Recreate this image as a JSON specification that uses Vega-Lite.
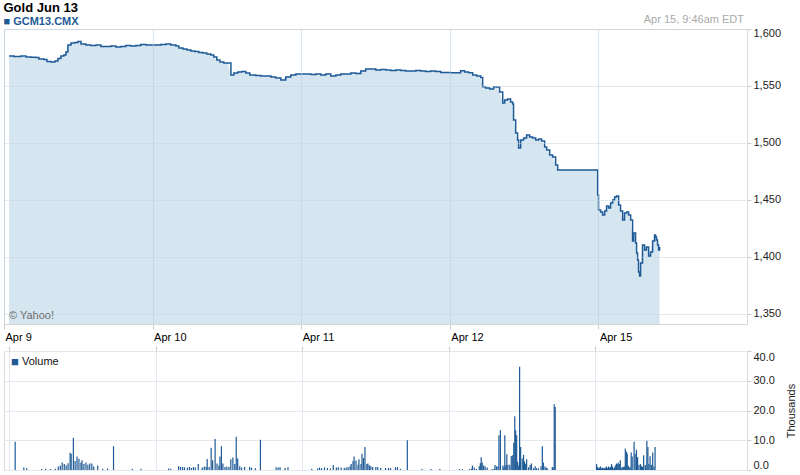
{
  "$schema": "https://vega.github.io/schema/vega-lite/v6.json",
  "padding": {"left": 3, "top": 1, "right": 0, "bottom": 0},
  "background": "white",
  "bounds": "flush",
  "spacing": 27,
  "config": {
    "font": "Liberation Sans",
    "view": {"stroke": "#d9d9d9"},
    "axis": {"labelFont": "Liberation Sans", "labelFontSize": 11, "labelColor": "#222", "tickColor": "#cccccc", "domainColor": "#d9d9d9", "gridColor": "#dfe5ec", "title": null}
  },
  "datasets": {
    "price": [
      {"t": 0.034, "p": 1576.3}, {"t": 0.067, "p": 1575.9}, {"t": 0.114, "p": 1576.3}, {"t": 0.148, "p": 1575.4},
      {"t": 0.182, "p": 1575.2}, {"t": 0.215, "p": 1575.0}, {"t": 0.235, "p": 1573.7}, {"t": 0.269, "p": 1573.2},
      {"t": 0.289, "p": 1571.5}, {"t": 0.316, "p": 1571.0}, {"t": 0.343, "p": 1571.9}, {"t": 0.363, "p": 1574.1},
      {"t": 0.383, "p": 1576.3}, {"t": 0.403, "p": 1577.2}, {"t": 0.417, "p": 1579.8}, {"t": 0.430, "p": 1586.0},
      {"t": 0.451, "p": 1587.7}, {"t": 0.477, "p": 1588.2}, {"t": 0.498, "p": 1589.0}, {"t": 0.518, "p": 1586.8},
      {"t": 0.551, "p": 1586.0}, {"t": 0.585, "p": 1585.5}, {"t": 0.619, "p": 1586.0}, {"t": 0.652, "p": 1584.6},
      {"t": 0.686, "p": 1584.6}, {"t": 0.720, "p": 1585.1}, {"t": 0.753, "p": 1584.2}, {"t": 0.787, "p": 1584.6},
      {"t": 0.820, "p": 1585.5}, {"t": 0.854, "p": 1585.1}, {"t": 0.888, "p": 1585.5}, {"t": 0.921, "p": 1586.4},
      {"t": 0.955, "p": 1586.0}, {"t": 0.989, "p": 1586.0}, {"t": 1.022, "p": 1586.0}, {"t": 1.056, "p": 1586.4},
      {"t": 1.089, "p": 1586.8}, {"t": 1.123, "p": 1586.0}, {"t": 1.157, "p": 1585.1}, {"t": 1.177, "p": 1583.3},
      {"t": 1.204, "p": 1582.5}, {"t": 1.231, "p": 1581.6}, {"t": 1.258, "p": 1580.7}, {"t": 1.284, "p": 1580.3},
      {"t": 1.311, "p": 1579.4}, {"t": 1.338, "p": 1578.9}, {"t": 1.365, "p": 1578.1}, {"t": 1.392, "p": 1577.2},
      {"t": 1.412, "p": 1575.4}, {"t": 1.432, "p": 1572.8}, {"t": 1.453, "p": 1571.0}, {"t": 1.479, "p": 1570.2},
      {"t": 1.506, "p": 1570.2}, {"t": 1.527, "p": 1559.6}, {"t": 1.547, "p": 1561.4}, {"t": 1.574, "p": 1562.3},
      {"t": 1.601, "p": 1562.7}, {"t": 1.627, "p": 1561.4}, {"t": 1.654, "p": 1559.6}, {"t": 1.695, "p": 1559.2},
      {"t": 1.728, "p": 1558.8}, {"t": 1.762, "p": 1558.8}, {"t": 1.796, "p": 1557.9}, {"t": 1.829, "p": 1557.0},
      {"t": 1.863, "p": 1555.3}, {"t": 1.896, "p": 1557.9}, {"t": 1.930, "p": 1559.6}, {"t": 1.964, "p": 1560.5},
      {"t": 1.997, "p": 1560.5}, {"t": 2.031, "p": 1560.5}, {"t": 2.065, "p": 1560.1}, {"t": 2.098, "p": 1560.5},
      {"t": 2.132, "p": 1559.6}, {"t": 2.165, "p": 1560.5}, {"t": 2.199, "p": 1558.8}, {"t": 2.233, "p": 1559.6},
      {"t": 2.266, "p": 1560.5}, {"t": 2.300, "p": 1560.5}, {"t": 2.334, "p": 1561.4}, {"t": 2.367, "p": 1561.0},
      {"t": 2.401, "p": 1563.2}, {"t": 2.434, "p": 1564.9}, {"t": 2.468, "p": 1564.9}, {"t": 2.502, "p": 1564.0},
      {"t": 2.535, "p": 1564.5}, {"t": 2.569, "p": 1564.0}, {"t": 2.603, "p": 1563.6}, {"t": 2.636, "p": 1564.0},
      {"t": 2.670, "p": 1563.6}, {"t": 2.703, "p": 1563.2}, {"t": 2.737, "p": 1563.2}, {"t": 2.771, "p": 1563.6},
      {"t": 2.804, "p": 1563.2}, {"t": 2.838, "p": 1562.7}, {"t": 2.872, "p": 1563.2}, {"t": 2.905, "p": 1562.7},
      {"t": 2.939, "p": 1561.8}, {"t": 2.972, "p": 1561.8}, {"t": 3.006, "p": 1561.7}, {"t": 3.040, "p": 1561.7},
      {"t": 3.073, "p": 1563.4}, {"t": 3.100, "p": 1562.3}, {"t": 3.127, "p": 1561.7}, {"t": 3.154, "p": 1559.6},
      {"t": 3.181, "p": 1558.8}, {"t": 3.208, "p": 1557.5}, {"t": 3.221, "p": 1549.4}, {"t": 3.241, "p": 1548.2},
      {"t": 3.268, "p": 1547.4}, {"t": 3.295, "p": 1549.4}, {"t": 3.315, "p": 1549.1}, {"t": 3.335, "p": 1544.7},
      {"t": 3.356, "p": 1535.1}, {"t": 3.369, "p": 1537.7}, {"t": 3.389, "p": 1538.6}, {"t": 3.409, "p": 1536.0},
      {"t": 3.423, "p": 1534.2}, {"t": 3.429, "p": 1520.2}, {"t": 3.443, "p": 1508.8}, {"t": 3.456, "p": 1502.6},
      {"t": 3.463, "p": 1495.6}, {"t": 3.477, "p": 1502.6}, {"t": 3.497, "p": 1504.4}, {"t": 3.517, "p": 1507.0},
      {"t": 3.537, "p": 1505.3}, {"t": 3.557, "p": 1504.4}, {"t": 3.578, "p": 1502.6}, {"t": 3.598, "p": 1503.5},
      {"t": 3.618, "p": 1501.8}, {"t": 3.638, "p": 1496.5}, {"t": 3.652, "p": 1493.9}, {"t": 3.672, "p": 1489.5},
      {"t": 3.692, "p": 1487.7}, {"t": 3.712, "p": 1480.7}, {"t": 3.726, "p": 1476.3}, {"t": 3.988, "p": 1476.3},
      {"t": 3.995, "p": 1454.4}, {"t": 4.001, "p": 1441.2}, {"t": 4.015, "p": 1439.5}, {"t": 4.028, "p": 1436.8},
      {"t": 4.042, "p": 1440.4}, {"t": 4.055, "p": 1444.7}, {"t": 4.069, "p": 1443.0}, {"t": 4.082, "p": 1447.4},
      {"t": 4.096, "p": 1450.0}, {"t": 4.109, "p": 1452.6}, {"t": 4.122, "p": 1453.5}, {"t": 4.136, "p": 1445.6},
      {"t": 4.149, "p": 1440.4}, {"t": 4.163, "p": 1432.5}, {"t": 4.176, "p": 1438.6}, {"t": 4.190, "p": 1439.5},
      {"t": 4.203, "p": 1436.8}, {"t": 4.217, "p": 1432.5}, {"t": 4.230, "p": 1414.0}, {"t": 4.237, "p": 1421.0},
      {"t": 4.250, "p": 1412.3}, {"t": 4.257, "p": 1403.5}, {"t": 4.264, "p": 1397.4}, {"t": 4.270, "p": 1386.8},
      {"t": 4.277, "p": 1383.3}, {"t": 4.284, "p": 1394.7}, {"t": 4.297, "p": 1410.5}, {"t": 4.311, "p": 1406.1},
      {"t": 4.324, "p": 1408.8}, {"t": 4.338, "p": 1400.9}, {"t": 4.351, "p": 1404.4}, {"t": 4.365, "p": 1414.0},
      {"t": 4.378, "p": 1419.3}, {"t": 4.385, "p": 1417.5}, {"t": 4.391, "p": 1414.9}, {"t": 4.398, "p": 1410.5},
      {"t": 4.405, "p": 1406.1}, {"t": 4.412, "p": 1408.8}
    ],
    "volume": [
      {"t": 0.042, "v": 9.5}, {"t": 0.101, "v": 0.8}, {"t": 0.121, "v": 0.6}, {"t": 0.222, "v": 0.3}, {"t": 0.249, "v": 0.4},
      {"t": 0.282, "v": 0.3}, {"t": 0.316, "v": 0.4}, {"t": 0.336, "v": 1.2}, {"t": 0.350, "v": 1.5}, {"t": 0.363, "v": 2.5},
      {"t": 0.377, "v": 2.0}, {"t": 0.390, "v": 1.6}, {"t": 0.403, "v": 2.3}, {"t": 0.417, "v": 5.8}, {"t": 0.424, "v": 5.5},
      {"t": 0.439, "v": 10.8}, {"t": 0.451, "v": 3.0}, {"t": 0.464, "v": 4.5}, {"t": 0.477, "v": 3.8}, {"t": 0.491, "v": 2.5},
      {"t": 0.498, "v": 3.3}, {"t": 0.511, "v": 2.0}, {"t": 0.525, "v": 2.5}, {"t": 0.538, "v": 1.8}, {"t": 0.551, "v": 2.2},
      {"t": 0.565, "v": 2.2}, {"t": 0.578, "v": 1.2}, {"t": 0.605, "v": 1.5}, {"t": 0.639, "v": 0.4}, {"t": 0.672, "v": 0.5},
      {"t": 0.713, "v": 8.0}, {"t": 0.841, "v": 0.4}, {"t": 0.901, "v": 0.4},
      {"t": 1.089, "v": 0.5}, {"t": 1.103, "v": 0.4}, {"t": 1.157, "v": 1.3}, {"t": 1.170, "v": 1.0}, {"t": 1.184, "v": 1.0},
      {"t": 1.197, "v": 0.9}, {"t": 1.217, "v": 0.8}, {"t": 1.231, "v": 1.0}, {"t": 1.244, "v": 0.7}, {"t": 1.258, "v": 1.0},
      {"t": 1.271, "v": 0.8}, {"t": 1.291, "v": 2.0}, {"t": 1.318, "v": 0.8}, {"t": 1.332, "v": 1.2}, {"t": 1.345, "v": 1.0},
      {"t": 1.352, "v": 3.7}, {"t": 1.365, "v": 1.0}, {"t": 1.379, "v": 7.5}, {"t": 1.389, "v": 3.3}, {"t": 1.406, "v": 10.4},
      {"t": 1.419, "v": 2.2}, {"t": 1.432, "v": 1.5}, {"t": 1.439, "v": 4.5}, {"t": 1.449, "v": 8.0}, {"t": 1.459, "v": 2.2},
      {"t": 1.473, "v": 1.0}, {"t": 1.486, "v": 1.2}, {"t": 1.500, "v": 1.0}, {"t": 1.513, "v": 3.6}, {"t": 1.527, "v": 4.2},
      {"t": 1.540, "v": 2.0}, {"t": 1.550, "v": 11.2}, {"t": 1.560, "v": 3.9}, {"t": 1.574, "v": 1.3}, {"t": 1.587, "v": 0.8},
      {"t": 1.607, "v": 1.0}, {"t": 1.641, "v": 1.0}, {"t": 1.654, "v": 0.8}, {"t": 1.681, "v": 0.6}, {"t": 1.715, "v": 10.2},
      {"t": 1.822, "v": 0.9}, {"t": 1.836, "v": 0.8}, {"t": 1.849, "v": 0.9}, {"t": 1.883, "v": 0.7}, {"t": 1.903, "v": 0.9},
      {"t": 2.065, "v": 0.4}, {"t": 2.105, "v": 0.5}, {"t": 2.118, "v": 0.8}, {"t": 2.132, "v": 0.6}, {"t": 2.152, "v": 0.9},
      {"t": 2.172, "v": 0.7}, {"t": 2.192, "v": 0.5}, {"t": 2.212, "v": 1.7}, {"t": 2.233, "v": 0.8}, {"t": 2.246, "v": 0.9},
      {"t": 2.266, "v": 0.8}, {"t": 2.287, "v": 0.7}, {"t": 2.300, "v": 0.8}, {"t": 2.313, "v": 1.0}, {"t": 2.327, "v": 1.3},
      {"t": 2.334, "v": 2.0}, {"t": 2.347, "v": 3.0}, {"t": 2.354, "v": 4.5}, {"t": 2.367, "v": 3.2}, {"t": 2.381, "v": 1.8},
      {"t": 2.387, "v": 3.6}, {"t": 2.401, "v": 2.0}, {"t": 2.408, "v": 5.5}, {"t": 2.418, "v": 4.0}, {"t": 2.428, "v": 7.7},
      {"t": 2.441, "v": 2.0}, {"t": 2.448, "v": 2.2}, {"t": 2.458, "v": 1.6}, {"t": 2.468, "v": 1.3}, {"t": 2.481, "v": 1.0},
      {"t": 2.502, "v": 1.0}, {"t": 2.515, "v": 1.0}, {"t": 2.535, "v": 0.7}, {"t": 2.569, "v": 0.7}, {"t": 2.589, "v": 0.7},
      {"t": 2.603, "v": 0.6}, {"t": 2.636, "v": 0.9}, {"t": 2.650, "v": 1.0}, {"t": 2.670, "v": 0.4}, {"t": 2.717, "v": 10.0},
      {"t": 2.817, "v": 0.3}, {"t": 2.878, "v": 0.3}, {"t": 2.939, "v": 0.3},
      {"t": 3.073, "v": 0.3}, {"t": 3.093, "v": 0.3}, {"t": 3.141, "v": 0.3}, {"t": 3.154, "v": 0.4}, {"t": 3.161, "v": 1.5},
      {"t": 3.174, "v": 0.8}, {"t": 3.188, "v": 0.3}, {"t": 3.208, "v": 1.3}, {"t": 3.215, "v": 2.3}, {"t": 3.221, "v": 4.3},
      {"t": 3.228, "v": 2.5}, {"t": 3.238, "v": 1.5}, {"t": 3.248, "v": 1.2}, {"t": 3.262, "v": 0.8}, {"t": 3.295, "v": 0.3},
      {"t": 3.309, "v": 0.3}, {"t": 3.315, "v": 1.7}, {"t": 3.325, "v": 1.2}, {"t": 3.336, "v": 1.3}, {"t": 3.342, "v": 11.7},
      {"t": 3.352, "v": 13.4}, {"t": 3.369, "v": 1.5}, {"t": 3.376, "v": 0.8}, {"t": 3.382, "v": 11.7}, {"t": 3.389, "v": 1.6},
      {"t": 3.396, "v": 5.3}, {"t": 3.403, "v": 1.8}, {"t": 3.416, "v": 1.8}, {"t": 3.426, "v": 4.7}, {"t": 3.436, "v": 5.0},
      {"t": 3.443, "v": 9.2}, {"t": 3.450, "v": 18.1}, {"t": 3.456, "v": 13.4}, {"t": 3.463, "v": 11.7}, {"t": 3.470, "v": 2.8},
      {"t": 3.477, "v": 1.5}, {"t": 3.483, "v": 34.7}, {"t": 3.490, "v": 7.7}, {"t": 3.501, "v": 3.9}, {"t": 3.510, "v": 5.1},
      {"t": 3.517, "v": 2.8}, {"t": 3.522, "v": 2.0}, {"t": 3.531, "v": 3.6}, {"t": 3.544, "v": 0.9}, {"t": 3.555, "v": 1.7},
      {"t": 3.564, "v": 2.2}, {"t": 3.578, "v": 0.6}, {"t": 3.589, "v": 1.3}, {"t": 3.598, "v": 0.6}, {"t": 3.611, "v": 0.6},
      {"t": 3.629, "v": 1.3}, {"t": 3.638, "v": 8.0}, {"t": 3.645, "v": 2.5}, {"t": 3.656, "v": 1.2}, {"t": 3.665, "v": 0.8},
      {"t": 3.672, "v": 0.5}, {"t": 3.706, "v": 1.0}, {"t": 3.712, "v": 0.8}, {"t": 3.719, "v": 22.1}, {"t": 3.726, "v": 21.2},
      {"t": 4.008, "v": 2.0}, {"t": 4.015, "v": 1.0}, {"t": 4.022, "v": 0.6}, {"t": 4.028, "v": 0.8}, {"t": 4.035, "v": 1.2},
      {"t": 4.042, "v": 0.5}, {"t": 4.048, "v": 0.8}, {"t": 4.055, "v": 0.6}, {"t": 4.062, "v": 0.6}, {"t": 4.069, "v": 0.8},
      {"t": 4.075, "v": 1.2}, {"t": 4.082, "v": 0.6}, {"t": 4.089, "v": 1.2}, {"t": 4.096, "v": 0.8}, {"t": 4.103, "v": 1.0},
      {"t": 4.110, "v": 2.0}, {"t": 4.116, "v": 1.2}, {"t": 4.122, "v": 0.5}, {"t": 4.129, "v": 0.8}, {"t": 4.136, "v": 1.5},
      {"t": 4.143, "v": 2.2}, {"t": 4.149, "v": 2.0}, {"t": 4.156, "v": 2.5}, {"t": 4.163, "v": 2.0}, {"t": 4.170, "v": 3.3},
      {"t": 4.176, "v": 0.6}, {"t": 4.183, "v": 1.0}, {"t": 4.190, "v": 1.0}, {"t": 4.197, "v": 1.2}, {"t": 4.204, "v": 7.2},
      {"t": 4.212, "v": 6.2}, {"t": 4.217, "v": 5.5}, {"t": 4.224, "v": 1.5}, {"t": 4.230, "v": 1.0}, {"t": 4.237, "v": 0.8},
      {"t": 4.244, "v": 5.9}, {"t": 4.251, "v": 4.5}, {"t": 4.264, "v": 9.5}, {"t": 4.271, "v": 5.5}, {"t": 4.280, "v": 6.8},
      {"t": 4.288, "v": 4.3}, {"t": 4.297, "v": 1.7}, {"t": 4.307, "v": 2.0}, {"t": 4.315, "v": 1.3}, {"t": 4.321, "v": 1.0},
      {"t": 4.329, "v": 5.0}, {"t": 4.340, "v": 1.7}, {"t": 4.344, "v": 1.3}, {"t": 4.351, "v": 9.8}, {"t": 4.358, "v": 7.7},
      {"t": 4.365, "v": 2.0}, {"t": 4.373, "v": 4.6}, {"t": 4.382, "v": 1.7}, {"t": 4.391, "v": 5.9}, {"t": 4.400, "v": 1.2},
      {"t": 4.407, "v": 7.7}
    ]
  },
  "vconcat": [
    {
      "width": 743,
      "height": 295,
      "title": {
        "text": "Gold Jun 13",
        "subtitle": "■ GCM13.CMX",
        "anchor": "start",
        "font": "Liberation Sans",
        "fontSize": 13,
        "fontWeight": "bold",
        "color": "#000000",
        "subtitleFont": "Liberation Sans",
        "subtitleFontSize": 11,
        "subtitleFontWeight": "bold",
        "subtitleColor": "#1d5a96",
        "subtitlePadding": 1,
        "offset": -12.5
      },
      "layer": [
        {
          "data": {"name": "price"},
          "mark": {"type": "area", "color": "#d6e6f1", "opacity": 1},
          "encoding": {
            "x": {
              "field": "t", "type": "quantitative",
              "scale": {"domain": [0, 5], "nice": false, "zero": false},
              "axis": {
                "orient": "bottom", "values": [0, 1, 2, 3, 4], "tickCount": 10,
                "labelExpr": "['Apr  9','Apr 10','Apr 11','Apr 12','Apr 15'][datum.value]",
                "labelAlign": "left", "labelPadding": 2, "labelOffset": 1, "labelColor": "#000000",
                "tickSize": 5, "grid": true, "gridColor": "#b8cfe0", "gridOpacity": 0.55, "zindex": 1, "labelFlush": false
              }
            },
            "y": {
              "field": "p", "type": "quantitative",
              "scale": {"domain": [1341.2, 1600], "nice": false, "zero": false},
              "axis": {
                "orient": "right", "values": [1350, 1400, 1450, 1500, 1550, 1600], "tickCount": 10,
                "format": ",.0f", "tickSize": 4, "labelPadding": 2, "labelFlush": 1, "labelFlushOffset": 2,
                "labelOverlap": false,
                "grid": true, "gridColor": "#c5d3e0", "gridOpacity": 0.5, "zindex": 1, "labelColor": "#222222"
              }
            },
            "y2": {"datum": 1341.2}
          }
        },
        {
          "data": {"name": "price"},
          "mark": {"type": "line", "color": "#1d5a96", "strokeWidth": 1.5, "interpolate": "step-after"},
          "encoding": {
            "x": {"field": "t", "type": "quantitative"},
            "y": {"field": "p", "type": "quantitative"}
          }
        },
        {
          "data": {"values": [{}]},
          "mark": {"type": "text", "text": "© Yahoo!", "align": "left", "baseline": "middle", "dx": 5, "dy": -8, "color": "#666666", "fontSize": 11, "font": "Liberation Sans"},
          "encoding": {
            "x": {"datum": 0, "type": "quantitative"},
            "y": {"datum": 1341.2, "type": "quantitative"}
          }
        },
        {
          "data": {"values": [{}]},
          "mark": {"type": "text", "text": "Apr 15, 9:46am EDT", "align": "right", "baseline": "middle", "dx": -3, "dy": -9, "color": "#aaaaaa", "fontSize": 11, "font": "Liberation Sans"},
          "encoding": {
            "x": {"datum": 5, "type": "quantitative"},
            "y": {"datum": 1600, "type": "quantitative"}
          }
        }
      ]
    },
    {
      "width": 743,
      "height": 119,
      "layer": [
        {
          "data": {"name": "volume"},
          "mark": {"type": "bar", "width": 1.2, "color": "#1d5a96"},
          "encoding": {
            "x": {
              "field": "t", "type": "quantitative",
              "scale": {"domain": [0, 5], "nice": false, "zero": false},
              "axis": {"orient": "top", "values": [0, 1, 2, 3, 4], "tickCount": 10, "labels": false, "tickSize": 5, "grid": true, "gridColor": "#e3e8ee", "domain": false}
            },
            "y": {
              "field": "v", "type": "quantitative",
              "scale": {"domain": [0, 40], "nice": false},
              "axis": {
                "orient": "right", "values": [0, 10, 20, 30, 40], "tickCount": 10, "format": ".1f",
                "tickSize": 4, "labelPadding": 2, "labelFlush": 1, "labelOverlap": false,
                "grid": true, "gridColor": "#e3e8ee",
                "title": "Thousands", "titleAngle": 270, "titleFontWeight": "normal", "titleFontSize": 11,
                "titleFont": "Liberation Sans", "titleColor": "#222222", "titlePadding": 22, "labelColor": "#222222"
              }
            }
          }
        },
        {
          "data": {"values": [{}]},
          "mark": {"type": "text", "text": "■", "align": "left", "baseline": "middle", "dx": 2, "dy": 11, "color": "#1d5a96", "fontSize": 13},
          "encoding": {
            "x": {"datum": 0, "type": "quantitative"},
            "y": {"datum": 40, "type": "quantitative"}
          }
        },
        {
          "data": {"values": [{}]},
          "mark": {"type": "text", "text": "Volume", "align": "left", "baseline": "middle", "dx": 13, "dy": 11, "color": "#111111", "fontSize": 11, "font": "Liberation Sans"},
          "encoding": {
            "x": {"datum": 0, "type": "quantitative"},
            "y": {"datum": 40, "type": "quantitative"}
          }
        }
      ]
    }
  ]
}
